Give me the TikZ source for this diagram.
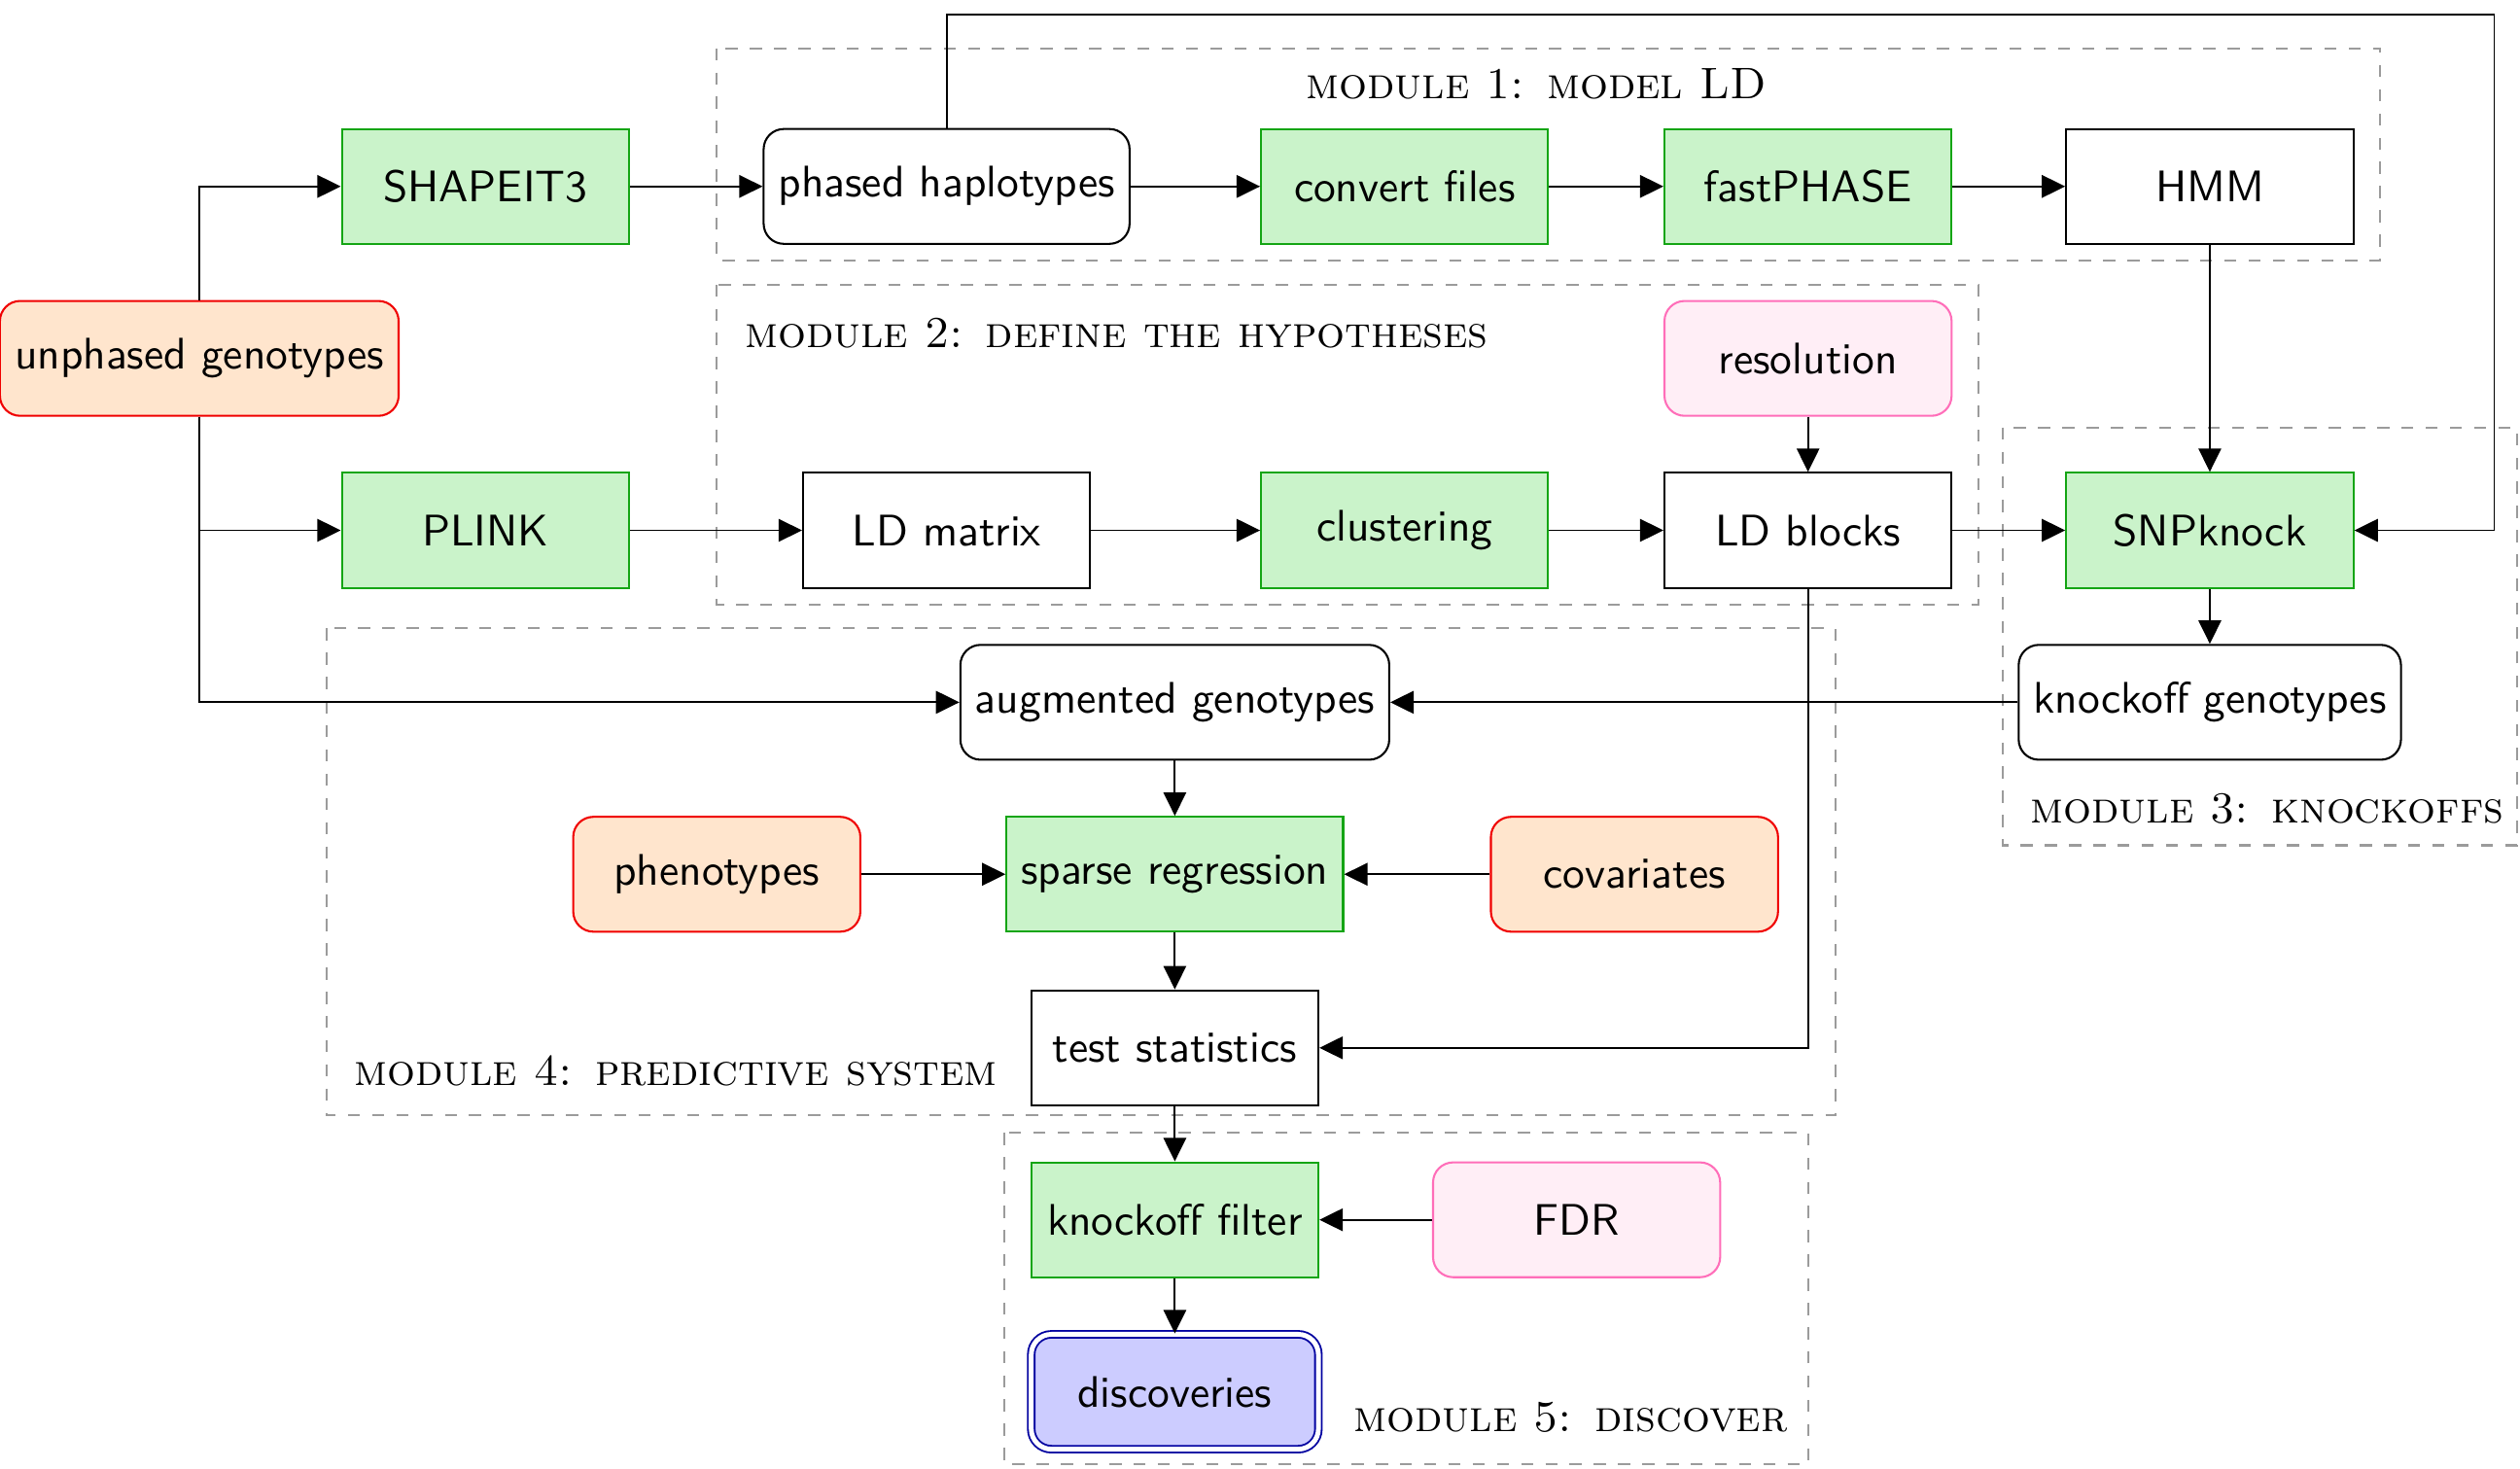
\documentclass[tikz,border=0pt]{standalone}
\usepackage{fontspec}
\usetikzlibrary{arrows.meta}
\definecolor{gfill}{RGB}{202,243,202}
\definecolor{gdraw}{RGB}{20,165,20}
\definecolor{ofill}{RGB}{255,229,205}
\definecolor{odraw}{RGB}{240,0,0}
\definecolor{pfill}{RGB}{255,238,246}
\definecolor{pdraw}{RGB}{255,110,185}
\definecolor{bfill}{RGB}{204,204,255}
\definecolor{bdraw}{RGB}{0,0,160}
\definecolor{mgray}{RGB}{155,155,155}
\begin{document}
\begin{tikzpicture}[x=0.013986cm,y=-0.013986cm,
  every node/.style={font=\sffamily\fontsize{10.95}{13.6}\selectfont},
  base/.style={draw, minimum width=2.5cm, minimum height=1cm, line width=0.5pt, inner sep=3.65pt},
  proc/.style={base, fill=gfill, draw=gdraw},
  datab/.style={base, rounded corners=5pt},
  plainb/.style={base},
  inputb/.style={base, rounded corners=5pt, fill=ofill, draw=odraw},
  paramb/.style={base, rounded corners=5pt, fill=pfill, draw=pdraw},
  outb/.style={base, rounded corners=5pt, fill=bfill, draw=bdraw, double, double distance=1.2pt, line width=0.45pt},
  arr/.style={-{Triangle[length=5.8pt,width=5.6pt]}, line width=0.45pt},
  modbox/.style={draw=mgray, dashed, line width=0.5pt},
  mlabel/.style={font=\rmfamily\scshape\fontsize{10.95}{13.6}\selectfont, inner sep=0pt}
]
\useasboundingbox (0,0) rectangle (1568,913.5);

% module boxes
\draw[modbox] (446,30) rectangle (1481,162);
\draw[modbox] (446,177) rectangle (1231,376);
\draw[modbox] (1246,266) rectangle (1566,526);
\draw[modbox] (203,391) rectangle (1142,694);
\draw[modbox] (625,705) rectangle (1125,911);

\node[mlabel] (l1) at (956,52) {module 1: model LD};
\node[mlabel, anchor=west] (l2) at (463,207) {module 2: define the hypotheses};
\node[mlabel, anchor=west] (l3) at (1263,503) {module 3: knockoffs};
\node[mlabel, anchor=west] (l4) at (220,666) {module 4: predictive system};
\node[mlabel, anchor=west] (l5) at (842,882) {module 5: discover};

% nodes
\node[inputb] (unph) at (124,223) {unphased genotypes};
\node[proc] (shape) at (302,116) {SHAPEIT3};
\node[proc] (plink) at (302,330) {PLINK};
\node[datab] (phased) at (589,116) {phased haplotypes};
\node[proc] (conv) at (874,116) {convert files};
\node[proc] (fast) at (1125,116) {fastPHASE};
\node[plainb] (hmm) at (1375,116) {HMM};
\node[paramb] (res) at (1125,223) {resolution};
\node[plainb] (ldm) at (589,330) {LD matrix};
\node[proc] (clus) at (874,330) {clustering};
\node[plainb] (ldb) at (1125,330) {LD blocks};
\node[proc] (snp) at (1375,330) {SNPknock};
\node[datab] (kog) at (1375,437) {knockoff genotypes};
\node[datab] (aug) at (731,437) {augmented genotypes};
\node[inputb] (phen) at (446,544) {phenotypes};
\node[proc] (sparse) at (731,544) {sparse regression};
\node[inputb] (cov) at (1017,544) {covariates};
\node[plainb] (test) at (731,652) {test statistics};
\node[proc] (kf) at (731,759) {knockoff filter};
\node[paramb] (fdr) at (981,759) {FDR};
\node[outb] (disc) at (731,866) {discoveries};

\coordinate (fb) at (1552,9);

% edges
\draw[arr] (unph.north) |- (shape.west);
\draw[arr] (unph.south) |- (plink.west);
\draw[arr] (unph.south) |- (aug.west);
\draw[arr] (shape) -- (phased);
\draw[arr] (phased) -- (conv);
\draw[arr] (conv) -- (fast);
\draw[arr] (fast) -- (hmm);
\draw[arr] (phased.north) |- (fb) |- (snp.east);
\draw[arr] (hmm) -- (snp);
\draw[arr] (res) -- (ldb);
\draw[arr] (plink) -- (ldm);
\draw[arr] (ldm) -- (clus);
\draw[arr] (clus) -- (ldb);
\draw[arr] (ldb) -- (snp);
\draw[arr] (snp) -- (kog);
\draw[arr] (kog) -- (aug);
\draw[arr] (ldb.south) |- (test.east);
\draw[arr] (aug) -- (sparse);
\draw[arr] (phen) -- (sparse);
\draw[arr] (cov) -- (sparse);
\draw[arr] (sparse) -- (test);
\draw[arr] (test) -- (kf);
\draw[arr] (fdr) -- (kf);
\draw[arr] (kf) -- (disc);
\end{tikzpicture}
\end{document}
